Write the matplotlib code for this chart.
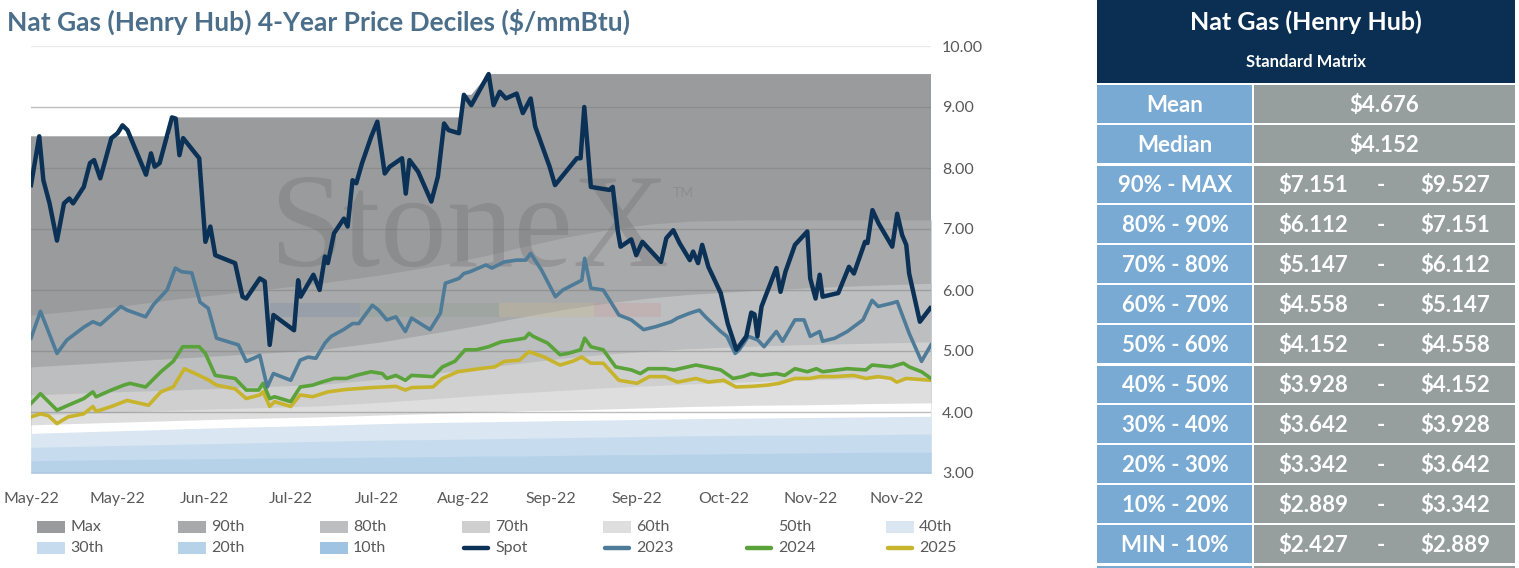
import numpy as np
import matplotlib
matplotlib.use("Agg")
import matplotlib.pyplot as plt
from matplotlib.patches import Rectangle
from matplotlib.lines import Line2D

plt.rcParams['font.family'] = ['Lato', 'DejaVu Sans']

# ---------------- data ----------------
tick_days = [0, 21, 42, 63, 84, 105, 126, 147, 168, 189, 210]
tick_labels = ["May-22", "May-22", "Jun-22", "Jul-22", "Jul-22", "Aug-22",
               "Sep-22", "Sep-22", "Oct-22", "Nov-22", "Nov-22"]

spot_days = [0, 2, 3, 4.5, 6.3, 8, 9.3, 10.2, 12.8, 14.3, 15.3, 16.8, 19.5, 21, 22.2, 23.4,
             27.9, 29.1, 30, 31.2, 34.2, 35.1, 36, 36.9, 40.8, 42.3, 43.5, 44.7, 49.5, 51.3,
             52.2, 55.5, 56.7, 57.9, 58.8, 63.8, 64.8, 65.4, 68.5, 70, 71.3, 72, 73.5, 75.9,
             76.8, 78, 78.9, 80.3, 82.5, 84, 85.8, 87, 90, 90.9, 91.8, 93.9, 97.1, 98.7, 100.2,
             101.3, 103.8, 105, 106.8, 111, 112.2, 113.7, 115.2, 117.8, 119.3, 121.2, 122.3,
             125.8, 127.1, 132.4, 133.3, 134.2, 135.8, 140.3, 141.1, 142.3, 143, 145.6, 146.8,
             148.3, 152.8, 154.1, 155.8, 157.3, 159.8, 160.6, 161.8, 162.8, 164.3, 167.3, 169,
             171.1, 173.5, 174.7, 175.5, 176.2, 177.2, 180.8, 181.8, 183, 185.3, 188.3, 189,
             190.3, 191.3, 192, 195.8, 198.4, 199.6, 202.3, 202.9, 204.1, 205.6, 208.9, 210.1,
             211.3, 212.3, 213, 215.6, 218.1]
spot_vals = [7.72, 8.52, 7.80, 7.42, 6.81, 7.42, 7.50, 7.42, 7.69, 8.08, 8.13, 7.83, 8.49, 8.57,
             8.70, 8.62, 7.89, 8.24, 8.02, 8.08, 8.83, 8.81, 8.21, 8.49, 8.16, 6.79, 7.04, 6.57,
             6.44, 5.89, 5.86, 6.19, 6.14, 5.10, 5.59, 5.34, 6.16, 5.89, 6.25, 6.00, 6.55, 6.44,
             6.93, 7.17, 7.04, 7.80, 7.75, 8.08, 8.51, 8.76, 7.91, 8.02, 8.16, 7.58, 8.13, 7.94,
             7.45, 7.86, 8.73, 8.62, 8.57, 9.20, 9.03, 9.54, 9.03, 9.25, 9.14, 9.22, 8.90, 9.14,
             8.68, 8.02, 7.72, 8.16, 8.16, 9.00, 7.69, 7.64, 7.69, 6.98, 6.71, 6.83, 6.57, 6.79,
             6.46, 6.85, 6.98, 6.77, 6.49, 6.63, 6.44, 6.74, 6.38, 5.95, 5.45, 5.02, 5.24, 5.63,
             5.60, 5.24, 5.73, 6.36, 5.97, 6.30, 6.74, 6.96, 6.19, 5.86, 6.25, 5.89, 5.95, 6.38,
             6.27, 6.79, 6.77, 7.31, 7.09, 6.71, 7.25, 6.90, 6.74, 6.27, 5.48, 5.70]

y2023_days = [0, 2.3, 6.3, 8.7, 12.8, 15, 16.8, 21.8, 23.3, 27.8, 29.7, 33, 35, 36.5, 39, 41,
              43, 45, 50.3, 52.2, 54, 55.5, 57.3, 58.8, 63, 65.3, 67.2, 69.1, 71.3, 72.8, 75.8,
              78, 79.5, 82.8, 84.3, 86.3, 88.5, 90.8, 92.3, 96.8, 99.3, 100.5, 103.8, 105, 106.5,
              110.3, 111.8, 114.8, 117.8, 120, 121.2, 123.8, 127.2, 129, 133.6, 134.3, 135.8,
              138.8, 140.3, 142.6, 145.6, 148.6, 151.6, 155.3, 156.8, 159.8, 162.1, 163.6, 167.3,
              168.8, 170.8, 171.8, 174, 176.3, 177.8, 180.8, 182.3, 185.3, 187.5, 189, 191.3,
              192, 195, 198, 201.8, 204, 205.5, 208.6, 210.1, 213, 216, 218.3]
y2023_vals = [5.21, 5.65, 4.96, 5.18, 5.39, 5.48, 5.43, 5.73, 5.67, 5.56, 5.76, 6.00, 6.36, 6.30,
              6.28, 5.80, 5.70, 5.21, 5.10, 4.83, 4.88, 4.93, 4.41, 4.63, 4.52, 4.85, 4.90, 4.88,
              5.13, 5.24, 5.35, 5.45, 5.45, 5.75, 5.67, 5.51, 5.56, 5.32, 5.54, 5.35, 5.62, 6.11,
              6.19, 6.27, 6.30, 6.41, 6.36, 6.46, 6.49, 6.49, 6.60, 6.33, 5.89, 6.00, 6.16, 6.52,
              6.03, 6.00, 5.84, 5.59, 5.51, 5.35, 5.40, 5.48, 5.54, 5.62, 5.67, 5.56, 5.32, 5.24,
              4.96, 5.02, 5.24, 5.18, 5.07, 5.32, 5.16, 5.51, 5.51, 5.24, 5.32, 5.16, 5.21, 5.32,
              5.51, 5.83, 5.73, 5.78, 5.81, 5.29, 4.83, 5.10]

y2024_days = [0, 2.3, 6.3, 9, 12.8, 15, 15.8, 19.5, 22.5, 24, 27.8, 31.5, 34.5, 36.8, 40.8, 42.3,
              44.7, 49.5, 52.2, 55.2, 56.3, 57.9, 59.1, 63, 65.3, 68.3, 70.5, 73.5, 76.5, 78.8,
              82.5, 85.2, 86.3, 88.5, 90.8, 92.3, 97.5, 99.8, 102.8, 105.3, 108, 111, 114, 117,
              119.8, 120.8, 121.8, 125.3, 128.3, 130.2, 133.3, 134.3, 135.8, 138.8, 141.8, 145.6,
              147.8, 149.7, 153.8, 156, 161.3, 163.6, 167.3, 170.3, 172.6, 174.8, 177, 180.8,
              182.8, 185.3, 188.3, 190.5, 192, 198, 202.5, 204, 208.6, 211.6, 213, 216, 218.3]
y2024_vals = [4.14, 4.30, 4.03, 4.11, 4.22, 4.33, 4.25, 4.36, 4.44, 4.47, 4.41, 4.66, 4.83, 5.07,
              5.07, 4.96, 4.60, 4.55, 4.36, 4.36, 4.47, 4.22, 4.25, 4.17, 4.41, 4.44, 4.49, 4.55,
              4.55, 4.60, 4.66, 4.63, 4.55, 4.60, 4.52, 4.60, 4.58, 4.74, 4.83, 5.02, 5.02, 5.07,
              5.15, 5.18, 5.21, 5.29, 5.24, 5.13, 4.94, 4.96, 5.02, 5.21, 5.07, 5.02, 4.74, 4.69,
              4.63, 4.71, 4.71, 4.69, 4.77, 4.74, 4.69, 4.55, 4.58, 4.63, 4.60, 4.63, 4.60, 4.71,
              4.66, 4.71, 4.66, 4.71, 4.69, 4.77, 4.74, 4.80, 4.74, 4.66, 4.55]

y2025_days = [0, 2.3, 4.2, 6.3, 9, 12.8, 15, 15.8, 19.5, 23.3, 28.5, 31.5, 34.5, 37.2, 40.8,
              43.2, 45, 49.5, 52.2, 55.5, 56.3, 57.9, 59.1, 63, 65.3, 68.3, 72, 76.5, 82.5, 88.5,
              90.8, 92.3, 97.5, 99.8, 103.5, 108.8, 112.5, 114.8, 118.5, 120.8, 124.5, 128.3,
              131.3, 133.6, 135.8, 138.8, 142.6, 147, 150, 153.8, 156.8, 161.3, 164.3, 168, 171,
              174.8, 178.6, 181.5, 185.3, 189, 191.3, 195, 199.5, 202.5, 205.5, 208.6, 210, 212.3,
              218.3]
y2025_vals = [3.92, 3.97, 3.94, 3.81, 3.92, 3.97, 4.09, 4.01, 4.09, 4.19, 4.11, 4.33, 4.41, 4.71,
              4.60, 4.52, 4.44, 4.38, 4.22, 4.28, 4.33, 4.09, 4.17, 4.09, 4.28, 4.25, 4.33, 4.37,
              4.40, 4.42, 4.36, 4.40, 4.41, 4.55, 4.66, 4.71, 4.74, 4.83, 4.85, 4.99, 4.90, 4.77,
              4.83, 4.90, 4.80, 4.80, 4.52, 4.47, 4.58, 4.58, 4.49, 4.55, 4.49, 4.52, 4.41, 4.42,
              4.44, 4.47, 4.55, 4.55, 4.58, 4.58, 4.60, 4.55, 4.58, 4.55, 4.49, 4.55, 4.52]

# decile bands (knots)
max_days = [0, 33.6, 34.2, 104.6, 105, 106.8, 111, 218.3]
max_vals = [8.52, 8.52, 8.83, 8.83, 9.20, 9.20, 9.54, 9.54]
band_days = [0, 20, 35, 50, 70, 85, 100, 110, 120, 130, 140, 150, 160, 175, 190, 205, 218.3]
p90 = [5.59, 5.72, 5.85, 5.96, 6.11, 6.25, 6.42, 6.56, 6.72, 6.87, 6.99, 7.08, 7.13, 7.15, 7.15, 7.15, 7.15]
p80 = [4.74, 4.82, 4.88, 4.94, 5.02, 5.15, 5.32, 5.44, 5.57, 5.69, 5.79, 5.87, 5.93, 5.99, 6.04, 6.08, 6.11]
p70 = [4.28, 4.33, 4.36, 4.40, 4.45, 4.54, 4.65, 4.73, 4.81, 4.89, 4.95, 5.00, 5.04, 5.08, 5.11, 5.13, 5.15]
p60 = [3.95, 3.99, 4.03, 4.06, 4.10, 4.16, 4.23, 4.28, 4.32, 4.36, 4.40, 4.43, 4.46, 4.50, 4.53, 4.55, 4.56]
p50 = [3.79, 3.83, 3.86, 3.89, 3.92, 3.95, 3.98, 4.00, 4.02, 4.03, 4.05, 4.07, 4.09, 4.11, 4.12, 4.14, 4.15]
p40 = [3.65, 3.69, 3.72, 3.75, 3.78, 3.81, 3.83, 3.84, 3.85, 3.86, 3.87, 3.88, 3.89, 3.90, 3.91, 3.92, 3.93]
p30 = [3.42, 3.45, 3.47, 3.49, 3.52, 3.54, 3.55, 3.56, 3.57, 3.58, 3.59, 3.60, 3.61, 3.62, 3.62, 3.63, 3.64]
p20 = [3.20, 3.22, 3.23, 3.24, 3.25, 3.26, 3.27, 3.28, 3.28, 3.29, 3.30, 3.30, 3.31, 3.32, 3.33, 3.34, 3.34]
p10 = [2.95, 2.95, 2.94, 2.94, 2.93, 2.93, 2.92, 2.92, 2.92, 2.91, 2.91, 2.90, 2.90, 2.90, 2.89, 2.89, 2.89]

band_names = ["Max", "90th", "80th", "70th", "60th", "50th", "40th", "30th", "20th", "10th"]
band_colors = ["#9a9b9d", "#a8a9ab", "#bdbebf", "#cfcfcf", "#dedede", "#ffffff",
               "#dae6f2", "#c6dcee", "#b6d2e9", "#9fc3e3"]

table_title = "Nat Gas (Henry Hub)"
table_sub = "Standard Matrix"
stat_labels = ["Mean", "Median"]
stat_values = ["$4.676", "$4.152"]
range_labels = ["90% - MAX", "80% - 90%", "70% - 80%", "60% - 70%", "50% - 60%",
                "40% - 50%", "30% - 40%", "20% - 30%", "10% - 20%", "MIN - 10%"]
range_low = ["$7.151", "$6.112", "$5.147", "$4.558", "$4.152", "$3.928", "$3.642",
             "$3.342", "$2.889", "$2.427"]
range_high = ["$9.527", "$7.151", "$6.112", "$5.147", "$4.558", "$4.152", "$3.928",
              "$3.642", "$3.342", "$2.889"]

# ---------------- figure ----------------
W, H = 1519, 568
fig = plt.figure(figsize=(W / 100, H / 100), dpi=100)
ax = fig.add_axes([31 / W, (H - 473) / H, 900 / W, 427 / H])

ax.fill_between(max_days, 0, max_vals, color=band_colors[0], lw=0, zorder=1)
pct = [p90, p80, p70, p60, p50, p40, p30, p20, p10]
for i, arr in enumerate(pct):
    ax.fill_between(band_days, 0, arr, color=band_colors[i + 1], lw=0, zorder=1 + i + 1)

for v in range(3, 11):
    ax.axhline(v, color="#7f7f7f" if v < 10 else "#d9d9d9", lw=1.0, alpha=0.5, zorder=12)

# watermark
ax.text(0.487, 0.56, "StoneX", transform=ax.transAxes, ha="center", va="center",
        fontsize=96, family="Liberation Serif", color="#6a6a6a", alpha=0.30, zorder=13)
ax.text(0.725, 0.655, "TM", transform=ax.transAxes, ha="center", va="center",
        fontsize=10, color="#808080", alpha=0.5, zorder=13)
seg_cols = ["#7d8fa3", "#8fa08f", "#c7bd93", "#c79a9a"]
seg_x = [0.265, 0.365, 0.52, 0.625]
seg_w = [0.10, 0.155, 0.105, 0.075]
for c, x0, w0 in zip(seg_cols, seg_x, seg_w):
    ax.add_patch(Rectangle((x0, 0.365), w0, 0.033, transform=ax.transAxes,
                           color=c, alpha=0.35, lw=0, zorder=13))

ax.plot(y2025_days, y2025_vals, color="#c8b42c", lw=2.6, zorder=20)
ax.plot(y2024_days, y2024_vals, color="#5aa23a", lw=2.6, zorder=21)
ax.plot(y2023_days, y2023_vals, color="#4e7b98", lw=2.6, zorder=22)
ax.plot(spot_days, spot_vals, color="#0b3256", lw=3.2, zorder=23)

ax.set_xlim(0, 218.3)
ax.set_ylim(3, 10)
ax.set_xticks(tick_days)
ax.set_xticklabels(tick_labels)
ax.set_yticks(range(3, 11))
ax.set_yticklabels([f"{v:.2f}" for v in range(3, 11)])
ax.yaxis.tick_right()
ax.tick_params(axis="both", length=0, labelsize=11.5, colors="#595959")
ax.tick_params(axis="x", pad=14)
ax.tick_params(axis="y", pad=8)
for s in ax.spines.values():
    s.set_visible(False)

# ---------------- overlay (pixel coords) ----------------
ov = fig.add_axes([0, 0, 1, 1], zorder=5)
ov.set_xlim(0, W)
ov.set_ylim(H, 0)
ov.axis("off")

fig.text(7 / W, 1 - 22 / H, "Nat Gas (Henry Hub) 4-Year Price Deciles (\\$/mmBtu)",
         fontsize=19, fontweight="bold", color="#4b6f8a", va="center", ha="left")

# legend
leg_cols = [37, 178, 320, 462, 603, 745, 886]
leg_rows = [527, 548]
leg_items = [(n, "patch", c) for n, c in zip(band_names, band_colors)] + [
    ("Spot", "line", "#0b3256"), ("2023", "line", "#4e7b98"),
    ("2024", "line", "#5aa23a"), ("2025", "line", "#c8b42c")]
for i, (name, kind, col) in enumerate(leg_items):
    x = leg_cols[i % 7]
    y = leg_rows[i // 7]
    if kind == "patch":
        ov.add_patch(Rectangle((x, y - 6), 28, 12, color=col, lw=0))
    else:
        ov.add_line(Line2D([x + 2, x + 26], [y, y], color=col, lw=3.2, solid_capstyle="round"))
    ov.text(x + 33, y, name, fontsize=11.5, color="#595959", va="center", ha="left")

# table
TL, TM, TR = 1097, 1253, 1515
navy, blue, grey = "#0b2f52", "#78aad4", "#969e9e"
ov.add_patch(Rectangle((TL, 0), TR - TL, 83, color=navy, lw=0))
ov.text((TL + TR) / 2, 22, table_title, color="white", fontsize=18, fontweight="bold",
        ha="center", va="center")
ov.text((TL + TR) / 2, 62, table_sub, color="white", fontsize=12, fontweight="bold",
        ha="center", va="center")
rows = [(l, v, None) for l, v in zip(stat_labels, stat_values)] + \
       [(l, a, b) for l, a, b in zip(range_labels, range_low, range_high)]
FS = 16
for i, (lab, a, b) in enumerate(rows):
    y0 = 84 + i * 40
    thick = i in (2, 7)
    top = y0 + (2 if thick else 1)
    h = y0 + 40 - 1 - top
    ov.add_patch(Rectangle((TL, top), TM - TL - 1, h, color=blue, lw=0))
    ov.add_patch(Rectangle((TM + 1, top), TR - TM - 1, h, color=grey, lw=0))
    yc = y0 + 21
    ov.text((TL + TM) / 2, yc, lab, color="white", fontsize=FS, fontweight="bold",
            ha="center", va="center")
    if b is None:
        ov.text((TM + TR) / 2, yc, a.replace("$", "\\$"), color="white", fontsize=FS,
                fontweight="bold", ha="center", va="center")
    else:
        ov.text(1313, yc, a.replace("$", "\\$"), color="white", fontsize=FS,
                fontweight="bold", ha="center", va="center")
        ov.text(1381, yc, "-", color="white", fontsize=FS, fontweight="bold",
                ha="center", va="center")
        ov.text(1455, yc, b.replace("$", "\\$"), color="white", fontsize=FS,
                fontweight="bold", ha="center", va="center")
ov.add_patch(Rectangle((TL, 566), TM - TL - 1, 4, color=blue, lw=0))
ov.add_patch(Rectangle((TM + 1, 566), TR - TM - 1, 4, color=grey, lw=0))

fig.savefig("out.png", dpi=100)
